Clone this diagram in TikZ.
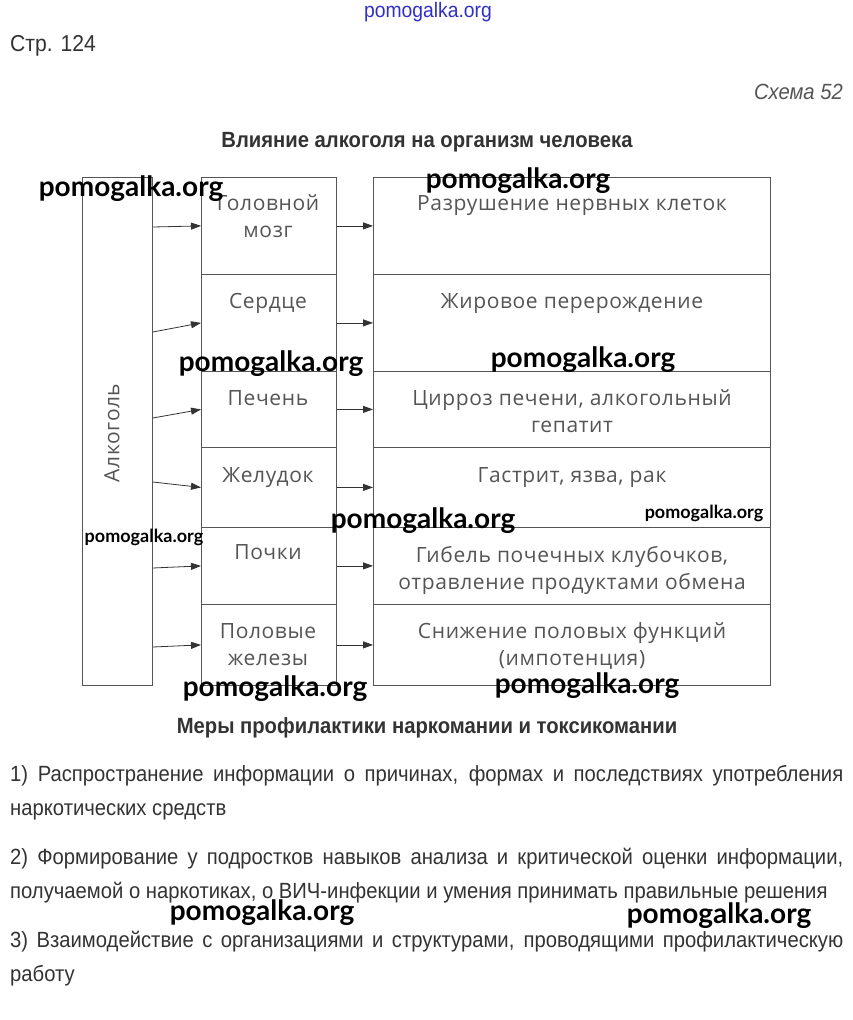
\documentclass[tikz,border=0pt]{standalone}
\usepackage{fontspec}
\setmainfont{Liberation Sans}
\newfontfamily\narrow[FakeStretch=0.92]{Liberation Sans}
\newfontfamily\dg[LetterSpace=3]{Open Sans}
\newfontfamily\wmf{Lato}
\usetikzlibrary{arrows.meta}
\definecolor{txtgray}{HTML}{555555}
\definecolor{linegray}{HTML}{555555}
\definecolor{headgray}{HTML}{333333}
\definecolor{wmblue}{HTML}{3030C8}
\begin{document}
\begin{tikzpicture}[x=1pt,y=-1pt,
  box/.style={draw=linegray, line width=0.8pt, inner sep=0pt, anchor=north west},
  dtext/.style={font=\dg\fontsize{21}{27}\selectfont, text=txtgray, align=center, inner sep=0pt, anchor=north},
  arr/.style={draw=headgray, line width=0.8pt, -{Triangle[length=10pt,width=7pt]}},
  para/.style={font=\narrow\fontsize{22}{26}\selectfont, text=headgray, inner sep=0pt, anchor=base west},
  head/.style={font=\narrow\bfseries\fontsize{22}{26}\selectfont, text=headgray, inner sep=0pt, anchor=base},
  wm/.style={font=\wmf\bfseries\fontsize{28}{32}\selectfont, text=black, inner sep=0pt},
  wms/.style={font=\wmf\bfseries\fontsize{18}{21}\selectfont, text=black, inner sep=0pt}
]
\path[use as bounding box, fill=white] (0,0) rectangle (853,1020);

% header
\node[font=\narrow\fontsize{21}{24}\selectfont, text=wmblue, inner sep=0pt] (wmtop) at (428,12) {pomogalka.org};
\node[font=\narrow\fontsize{23}{26}\selectfont, text=headgray, inner sep=0pt, anchor=base west] (page) at (10,51) {Стр. 124};
\node[font=\narrow\itshape\fontsize{22}{26}\selectfont, text=txtgray, inner sep=0pt, anchor=base east] (schema) at (843,99) {Схема 52};
\node[head] (title) at (427,147) {Влияние алкоголя на организм человека};

% alcohol box
\node[box, minimum width=70pt, minimum height=508pt] (alc) at (82,177) {};
\node[font=\dg\fontsize{21}{24}\selectfont, text=txtgray, rotate=90, inner sep=0pt] (alct) at (112,433) {Алкоголь};

% middle column
\node[box, minimum width=135pt, minimum height=97pt] (m1) at (201,177) {};
\node[box, minimum width=135pt, minimum height=97pt] (m2) at (201,274) {};
\node[box, minimum width=135pt, minimum height=76pt] (m3) at (201,371) {};
\node[box, minimum width=135pt, minimum height=80pt] (m4) at (201,447) {};
\node[box, minimum width=135pt, minimum height=77pt] (m5) at (201,527) {};
\node[box, minimum width=135pt, minimum height=81pt] (m6) at (201,604) {};

% right column
\node[box, minimum width=397pt, minimum height=97pt] (r1) at (373,177) {};
\node[box, minimum width=397pt, minimum height=97pt] (r2) at (373,274) {};
\node[box, minimum width=397pt, minimum height=76pt] (r3) at (373,371) {};
\node[box, minimum width=397pt, minimum height=80pt] (r4) at (373,447) {};
\node[box, minimum width=397pt, minimum height=77pt] (r5) at (373,527) {};
\node[box, minimum width=397pt, minimum height=81pt] (r6) at (373,604) {};

% texts middle
\node[dtext] (tm1) at (268,191) {\strut Головной\\\strut мозг};
\node[dtext] (tm2) at (268,289) {\strut Сердце};
\node[dtext] (tm3) at (268,386) {\strut Печень};
\node[dtext] (tm4) at (268,463) {\strut Желудок};
\node[dtext] (tm5) at (268,540) {\strut Почки};
\node[dtext] (tm6) at (268,619) {\strut Половые\\\strut железы};

% texts right
\node[dtext] (tr1) at (572,191) {\strut Разрушение нервных клеток};
\node[dtext] (tr2) at (572,289) {\strut Жировое перерождение};
\node[dtext] (tr3) at (572,386) {\strut Цирроз печени, алкогольный\\\strut гепатит};
\node[dtext] (tr4) at (572,463) {\strut Гастрит, язва, рак};
\node[dtext] (tr5) at (572,543) {\strut Гибель почечных клубочков,\\\strut отравление продуктами обмена};
\node[dtext] (tr6) at (572,619) {\strut Снижение половых функций\\\strut (импотенция)};

% arrows alcohol -> organs
\draw[arr] (alc.east |- 0,227) -- (m1.west);
\draw[arr] (alc.east |- 0,332) -- (m2.west);
\draw[arr] (alc.east |- 0,418) -- (m3.west);
\draw[arr] (alc.east |- 0,482) -- (m4.west);
\draw[arr] (alc.east |- 0,568) -- (m5.west);
\draw[arr] (alc.east |- 0,647) -- (m6.west);
% arrows organs -> effects
\draw[arr] (m1.east) -- (r1.west);
\draw[arr] (m2.east) -- (r2.west);
\draw[arr] (m3.east) -- (r3.west);
\draw[arr] (m4.east) -- (r4.west);
\draw[arr] (m5.east) -- (r5.west);
\draw[arr] (m6.east) -- (r6.west);

% second part
\node[head] (title2) at (427,733) {Меры профилактики наркомании и токсикомании};
\node[para] (p1a) at (10,781) {\makebox[833pt][s]{1) Распространение информации о причинах, формах и последствиях употребления}};
\node[para] (p1b) at (10,815) {наркотических средств};
\node[para] (p2a) at (10,864) {\makebox[833pt][s]{2) Формирование у подростков навыков анализа и критической оценки информации,}};
\node[para] (p2b) at (10,898) {получаемой о наркотиках, о ВИЧ-инфекции и умения принимать правильные решения};
\node[para] (p3a) at (10,947) {\makebox[833pt][s]{3) Взаимодействие с организациями и структурами, проводящими профилактическую}};
\node[para] (p3b) at (10,981) {работу};

% watermarks
\node[wm] (w1) at (131,189) {pomogalka.org};
\node[wm] (w2) at (518,181) {pomogalka.org};
\node[wm] (w3) at (271,364) {pomogalka.org};
\node[wm] (w4) at (583,360) {pomogalka.org};
\node[wm] (w5) at (423,521) {pomogalka.org};
\node[wms] (w6) at (704,513) {pomogalka.org};
\node[wms] (w7) at (144,537) {pomogalka.org};
\node[wm] (w8) at (275,689) {pomogalka.org};
\node[wm] (w9) at (587,686) {pomogalka.org};
\node[wm] (w10) at (262,913) {pomogalka.org};
\node[wm] (w11) at (719,916) {pomogalka.org};
\end{tikzpicture}
\end{document}
